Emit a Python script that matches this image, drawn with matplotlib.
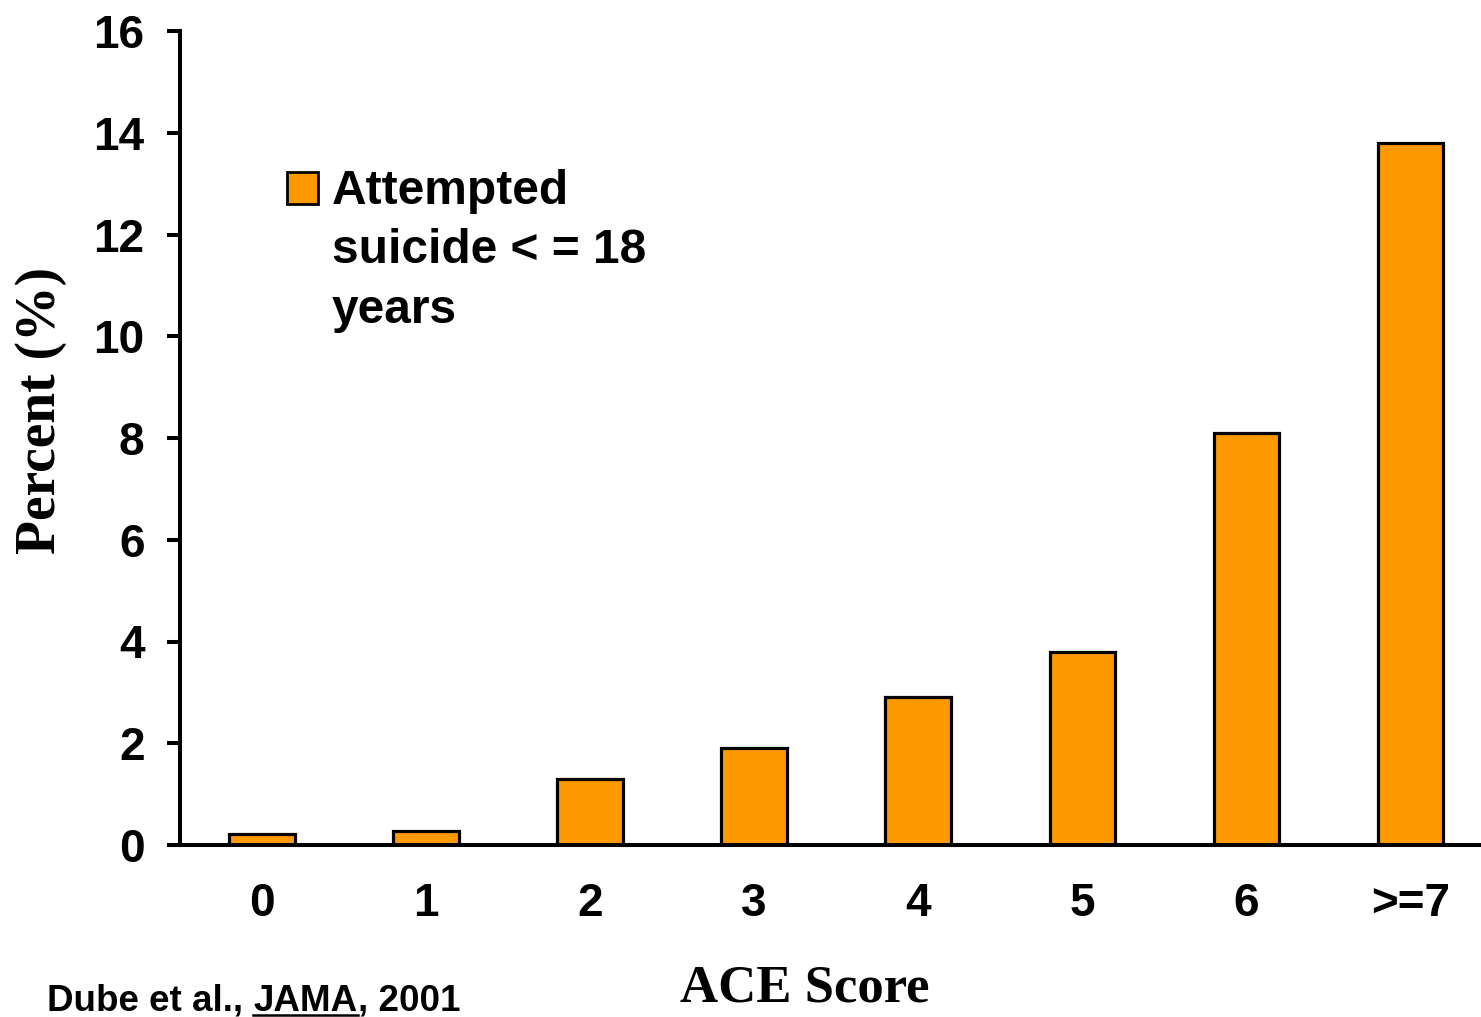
import matplotlib
matplotlib.use("Agg")
import matplotlib.pyplot as plt
from matplotlib.lines import Line2D
from matplotlib.patches import Rectangle

categories = ["0", "1", "2", "3", "4", "5", "6", ">=7"]
values = [0.22, 0.28, 1.3, 1.9, 2.9, 3.8, 8.1, 13.8]
yticks = [0, 2, 4, 6, 8, 10, 12, 14, 16]
series_label = "Attempted\nsuicide < = 18\nyears"

W, H = 1481, 1017
fig = plt.figure(figsize=(W / 100, H / 100), dpi=100)
ax = fig.add_axes([180 / W, 1 - 845 / H, 1 - 180 / W, (845 - 31) / H])

orange = "#FF9900"
x = list(range(len(categories)))
ax.bar(x, values, width=0.4, color=orange, edgecolor="black", linewidth=2.3, zorder=3)

ax.set_xlim(-0.5, 7.43)
ax.set_ylim(0, 16)
ax.set_yticks(yticks)
ax.set_xticks(x)
ax.set_xticklabels(categories)

for s in ["top", "right"]:
    ax.spines[s].set_visible(False)
for s in ["left", "bottom"]:
    ax.spines[s].set_linewidth(2.9)
ax.spines["bottom"].set_zorder(4)

sans = "Liberation Sans"
serif = "Liberation Serif"
ax.tick_params(axis="y", direction="out", length=9.5, width=2.9, pad=16,
               labelsize=33)
ax.tick_params(axis="x", length=0, pad=27, labelsize=33)
for lab in ax.get_xticklabels() + ax.get_yticklabels():
    lab.set_fontfamily(sans)
    lab.set_fontweight("bold")

# extend x axis line slightly left (as in the reference)
ax.plot([-0.58, -0.5], [0, 0], color="black", lw=2.9, clip_on=False, zorder=4,
        solid_capstyle="butt")

# legend
fig.patches.append(Rectangle((287 / W, 1 - 204 / H), 31 / W, 32 / H,
                             transform=fig.transFigure, facecolor=orange,
                             edgecolor="black", linewidth=2.0))
fig.text(332 / W, 1 - 323 / H, series_label, ha="left", va="baseline",
         fontsize=34.5, fontweight="bold", family=sans, linespacing=1.42)

ax.set_ylabel("Percent (%)", fontsize=40, fontweight="bold", family=serif)
ax.yaxis.set_label_coords(67 / W, 1 - 410 / H, transform=fig.transFigure)

fig.text(805 / W, 1 - 1002 / H, "ACE Score", ha="center", va="baseline",
         fontsize=38, fontweight="bold", family=serif)

# citation with underlined JAMA
fig.canvas.draw()
r = fig.canvas.get_renderer()
base_y = 1 - 1011 / H
t1 = fig.text(47 / W, base_y, "Dube et al., ", ha="left", va="baseline",
              fontsize=26.5, fontweight="bold", family=sans)
bb1 = t1.get_window_extent(r)
t2 = fig.text(bb1.x1 / W, base_y, "JAMA", ha="left", va="baseline",
              fontsize=26.5, fontweight="bold", family=sans)
bb2 = t2.get_window_extent(r)
t3 = fig.text(bb2.x1 / W, base_y, ", 2001", ha="left", va="baseline",
              fontsize=26.5, fontweight="bold", family=sans)
uy = base_y - 4 / H
fig.lines.append(Line2D([bb2.x0 / W, bb2.x1 / W], [uy, uy],
                        transform=fig.transFigure, color="black", lw=1.8))

fig.savefig("out.png", dpi=100)
